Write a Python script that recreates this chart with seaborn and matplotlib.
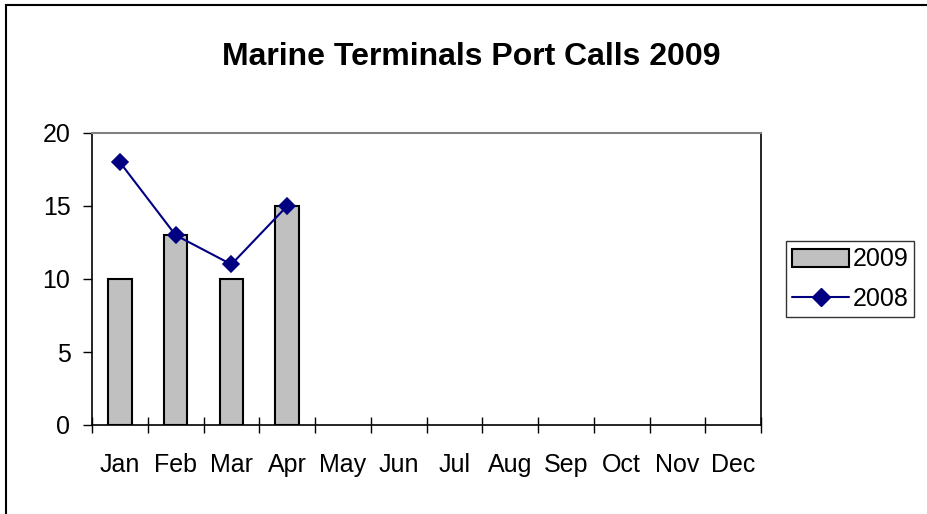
import pandas as pd
import matplotlib
matplotlib.use("Agg")
import matplotlib.pyplot as plt
from matplotlib.patches import Patch, Rectangle
from matplotlib.lines import Line2D
import seaborn as sns

# chart values
months = ['Jan', 'Feb', 'Mar', 'Apr', 'May', 'Jun', 'Jul', 'Aug', 'Sep', 'Oct', 'Nov', 'Dec']
calls_2009 = [10, 13, 10, 15]
calls_2008 = [18, 13, 11, 15]
y_ticks = [0, 5, 10, 15, 20]

df09 = pd.DataFrame({'month': months[:len(calls_2009)], 'calls': calls_2009})
df08 = pd.DataFrame({'month': months[:len(calls_2008)], 'calls': calls_2008})

sns.set_style('white')
plt.rcParams['font.family'] = ['Liberation Sans', 'DejaVu Sans']
plt.rcParams['text.color'] = 'black'
plt.rcParams['xtick.color'] = 'black'
plt.rcParams['ytick.color'] = 'black'

fig = plt.figure(figsize=(9.28, 5.14), dpi=100)
ax = fig.add_axes([92 / 928, 1 - 425 / 514, 669 / 928, 292 / 514])

bar_color = '#C0C0C0'
line_color = '#000080'

sns.barplot(data=df09, x='month', y='calls', order=months, color=bar_color,
            width=0.42, edgecolor='black', linewidth=1.5, saturation=1, ax=ax)
sns.pointplot(data=df08, x='month', y='calls', order=months, color=line_color,
              markers='D', markersize=8, linewidth=1.5, ax=ax)

ax.set_xlim(-0.5, len(months) - 0.5)
ax.set_ylim(0, 20)
ax.set_yticks(y_ticks)
ax.set_xlabel('')
ax.set_ylabel('')

# category boundary ticks like Excel
ax.set_xticks([i - 0.5 for i in range(len(months) + 1)], minor=True)
ax.tick_params(axis='x', which='major', bottom=True, length=0, pad=20.5, labelsize=18)
ax.tick_params(axis='x', which='minor', bottom=True, direction='inout', length=12, width=1)
ax.tick_params(axis='y', left=True, direction='out', length=6.5, width=1, pad=9, labelsize=18)

for side in ['left', 'bottom', 'right']:
    ax.spines[side].set_color('black')
    ax.spines[side].set_linewidth(1.2)
ax.spines['top'].set_color('#808080')
ax.spines['top'].set_linewidth(1.5)

fig.text(471 / 928, 1 - 57 / 514, 'Marine Terminals Port Calls 2009', ha='center', va='center',
         fontsize=23, fontweight='bold')

handles = [Patch(facecolor=bar_color, edgecolor='black', linewidth=1.5, label='2009'),
           Line2D([0], [0], color=line_color, marker='D', markersize=9, linewidth=1.5, label='2008')]
leg = fig.legend(handles=handles, loc='center', bbox_to_anchor=(850 / 928, 1 - 279 / 514),
                 frameon=True, fancybox=False, fontsize=18, handlelength=2.3,
                 borderpad=0.25, labelspacing=0.6, handletextpad=0.12, borderaxespad=0)
leg.get_frame().set_edgecolor('black')
leg.get_frame().set_linewidth(1)

fig.patches.append(Rectangle((6 / 928, -0.1), 1.2, 1.09, transform=fig.transFigure,
                             fill=False, edgecolor='black', linewidth=1.5))

fig.savefig('out.png', dpi=100)
